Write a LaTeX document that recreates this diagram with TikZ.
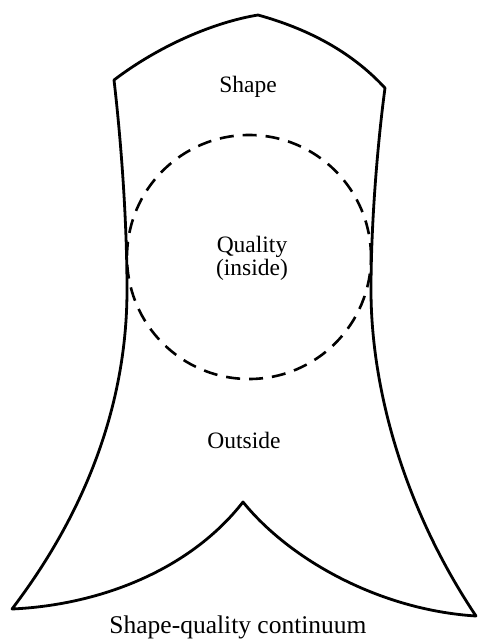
\documentclass[tikz,border=0pt]{standalone}
\usepackage{fontspec}
\setmainfont{Liberation Serif}
\usepackage{tikz}
\usetikzlibrary{positioning}

\begin{document}
\begin{tikzpicture}[x=1pt, y=-1pt,
    outline/.style={line width=2.8pt, line join=round},
    zone/.style={line width=2.6pt, dash pattern=on 14pt off 9pt},
    lbl/.style={font=\fontsize{23.5}{23}\selectfont, align=center, inner sep=0pt},
  ]
    \useasboundingbox (0,0) rectangle (479,641);

    % corners of the outline
    \coordinate (tl) at (114,80);
    \coordinate (top) at (258,15);
    \coordinate (tr) at (385,88);
    \coordinate (wl) at (127,290);
    \coordinate (wr) at (371,290);
    \coordinate (bl) at (12,609);
    \coordinate (notch) at (243,502);
    \coordinate (br) at (476,616);

    % outline
    \draw[outline] (tl) .. controls (160,45) and (215,22) .. (top)
      .. controls (305,28) and (350,50) .. (tr)
      .. controls (378,140) and (371,220) .. (wr)
      .. controls (371,390) and (405,510) .. (br)
      .. controls (380,610) and (290,560) .. (notch)
      .. controls (190,570) and (100,605) .. (bl)
      .. controls (95,500) and (127,390) .. (wl)
      .. controls (127,220) and (121,140) .. (tl) -- cycle;

    % quality zone
    \node[draw, zone, circle, minimum size=244pt] (quality) at (249,257) {};

    % labels
    \node[lbl] (shape) at (248,87) {Shape};
    \node[lbl] (inside) at (252,258) {Quality\\(inside)};
    \node[lbl] (outside) at (244,440) {Outside};
    \node[lbl, font=\fontsize{25.5}{25}\selectfont] (caption) at (238,627) {Shape-quality continuum};
\end{tikzpicture}
\end{document}
